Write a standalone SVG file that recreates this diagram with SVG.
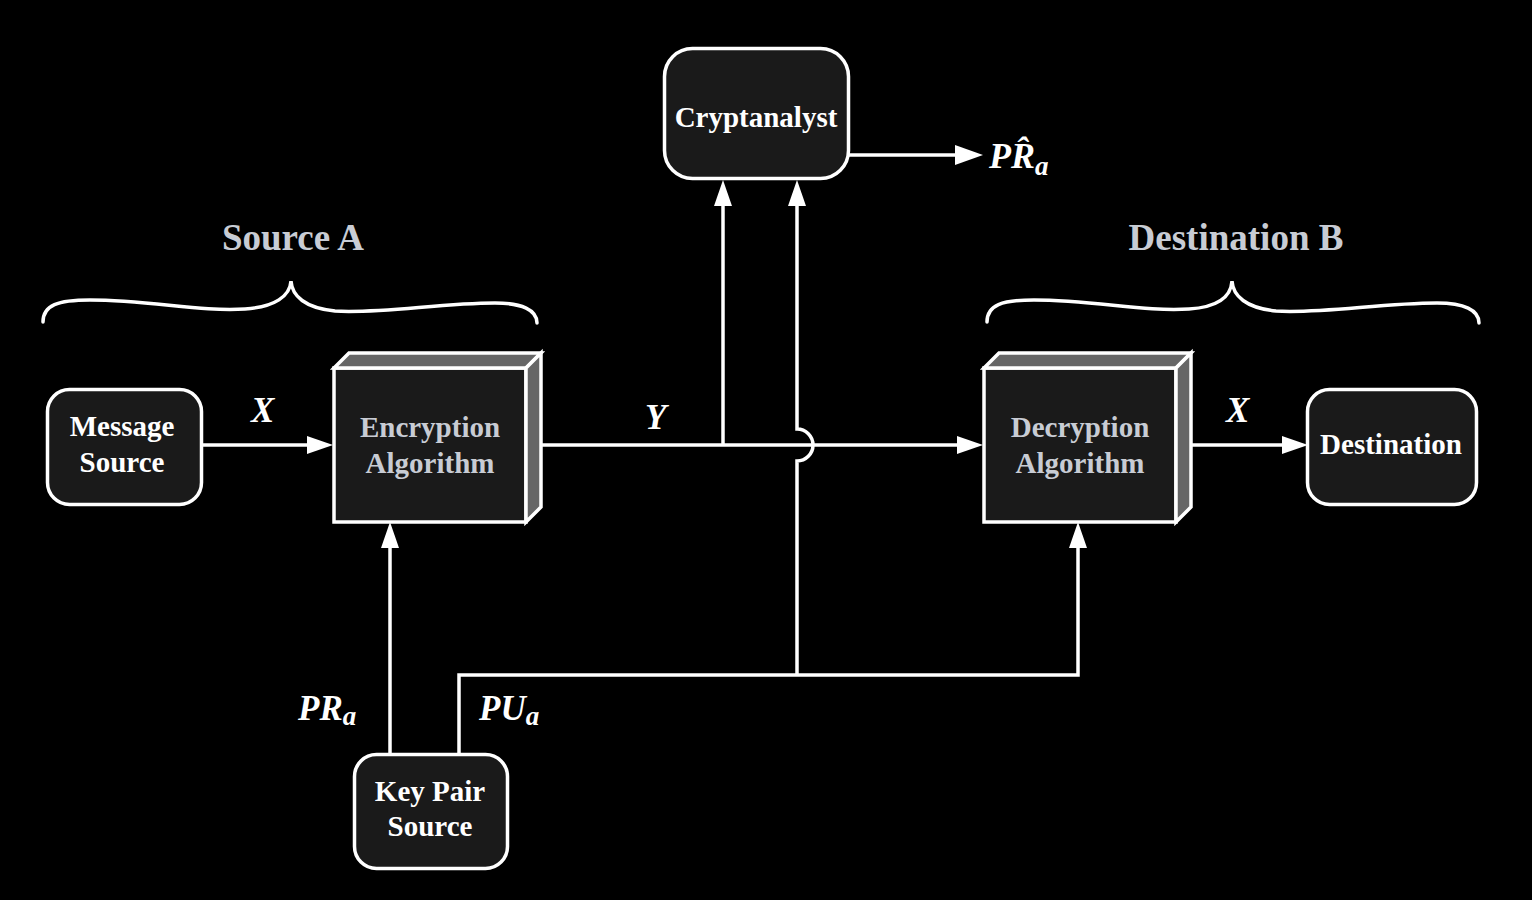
<svg xmlns="http://www.w3.org/2000/svg" width="1532" height="900" viewBox="0 0 1532 900">
<defs>
<style>
.node{fill:#1a1a1a;stroke:#fff;stroke-width:3.5}
.side{fill:#666;stroke:#fff;stroke-width:3.5;stroke-linejoin:miter}
.lbl{font-family:"Liberation Serif","Times New Roman",serif;font-weight:bold;font-size:29px;fill:#fff;text-anchor:middle}
.glbl{font-family:"Liberation Serif","Times New Roman",serif;font-weight:bold;font-size:29px;fill:#c8ccd4;text-anchor:middle}
.title{font-family:"Liberation Serif","Times New Roman",serif;font-weight:bold;font-size:37px;fill:#c8ccd4;text-anchor:middle}
.var{font-family:"Liberation Serif","Times New Roman",serif;font-weight:bold;font-style:italic;font-size:35px;fill:#fff}
.sub{font-size:27px}
.conn{fill:none;stroke:#fff;stroke-width:3.5}
.brace{fill:none;stroke:#fff;stroke-width:3.5;stroke-linecap:round}
</style>
<marker id="ah" markerUnits="userSpaceOnUse" markerWidth="28" markerHeight="20" refX="4" refY="10" orient="auto">
<path d="M0,1 L26,10 L0,19 z" fill="#fff"/>
</marker>
<marker id="ahb" markerUnits="userSpaceOnUse" markerWidth="30" markerHeight="22" refX="4" refY="11" orient="auto">
<path d="M0,1 L28,11 L0,21 z" fill="#fff"/>
</marker>
</defs>
<rect width="1532" height="900" fill="#000"/>

<g id="braces">
<path class="brace" d="M43,322 C43,305 58,300 90,300 C150,300 200,312 245,309 C275,307 290,296 291,281 C292,296 305,308 335,311 C380,314 440,303 495,303 C522,303 537,310 537,323"/>
<path class="brace" d="M987,322 C987,305 1002,300 1034,300 C1094,300 1144,312 1189,309 C1219,307 1231,296 1232,281 C1233,296 1246,308 1276,311 C1321,314 1381,303 1437,303 C1464,303 1479,310 1479,323"/>
<text class="title" x="293" y="250">Source A</text>
<text class="title" x="1236" y="250">Destination B</text>
</g>

<g id="connectors">
<path class="conn" d="M202,445 H311" marker-end="url(#ah)"/>
<path class="conn" d="M534,445 H961" marker-end="url(#ah)"/>
<path class="conn" d="M723,445 V202" marker-end="url(#ah)"/>
<path class="conn" d="M797,675 V461 A16,16 0 0 0 797,429 V202" marker-end="url(#ah)"/>
<path class="conn" d="M459,753 V675 H1078 V544" marker-end="url(#ah)"/>
<path class="conn" d="M390,753 V544" marker-end="url(#ah)"/>
<path class="conn" d="M1183,445 H1286" marker-end="url(#ah)"/>
<path class="conn" d="M849,155 H959" stroke-width="5" marker-end="url(#ahb)"/>
</g>

<g id="labels">
<text class="var" x="251" y="422">X</text>
<text class="var" x="645" y="429">Y</text>
<text class="var" x="1226" y="422">X</text>
<text class="var" x="298" y="720">PR<tspan class="sub" dy="5">a</tspan></text>
<text class="var" x="479" y="720">PU<tspan class="sub" dy="5">a</tspan></text>
<text class="var" x="989" y="168" style="font-size:36px">PR&#x302;<tspan class="sub" dy="7">a</tspan></text>
</g>

<g id="message-source">
<rect class="node" x="47.5" y="389.5" width="154" height="115" rx="22"/>
<text class="lbl" x="122" y="436">Message</text>
<text class="lbl" x="122" y="472">Source</text>
</g>

<g id="encryption">
<rect class="node" x="334" y="368" width="192" height="154"/>
<polygon class="side" points="334,368 349,353 541,353 526,368"/>
<polygon class="side" points="526,368 541,353 541,507 526,522"/>
<text class="glbl" x="430" y="437">Encryption</text>
<text class="glbl" x="430" y="473">Algorithm</text>
</g>

<g id="cryptanalyst">
<rect class="node" x="664.5" y="48.5" width="184" height="130" rx="28"/>
<text class="lbl" x="756" y="127">Cryptanalyst</text>
</g>

<g id="decryption">
<rect class="node" x="984" y="368" width="192" height="154"/>
<polygon class="side" points="984,368 999,353 1191,353 1176,368"/>
<polygon class="side" points="1176,368 1191,353 1191,507 1176,522"/>
<text class="glbl" x="1080" y="437">Decryption</text>
<text class="glbl" x="1080" y="473">Algorithm</text>
</g>

<g id="destination">
<rect class="node" x="1307.5" y="389.5" width="169" height="115" rx="22"/>
<text class="lbl" x="1391" y="454">Destination</text>
</g>

<g id="key-pair-source">
<rect class="node" x="354.5" y="754.5" width="153" height="114" rx="22"/>
<text class="lbl" x="430" y="801">Key Pair</text>
<text class="lbl" x="430" y="836">Source</text>
</g>
</svg>
